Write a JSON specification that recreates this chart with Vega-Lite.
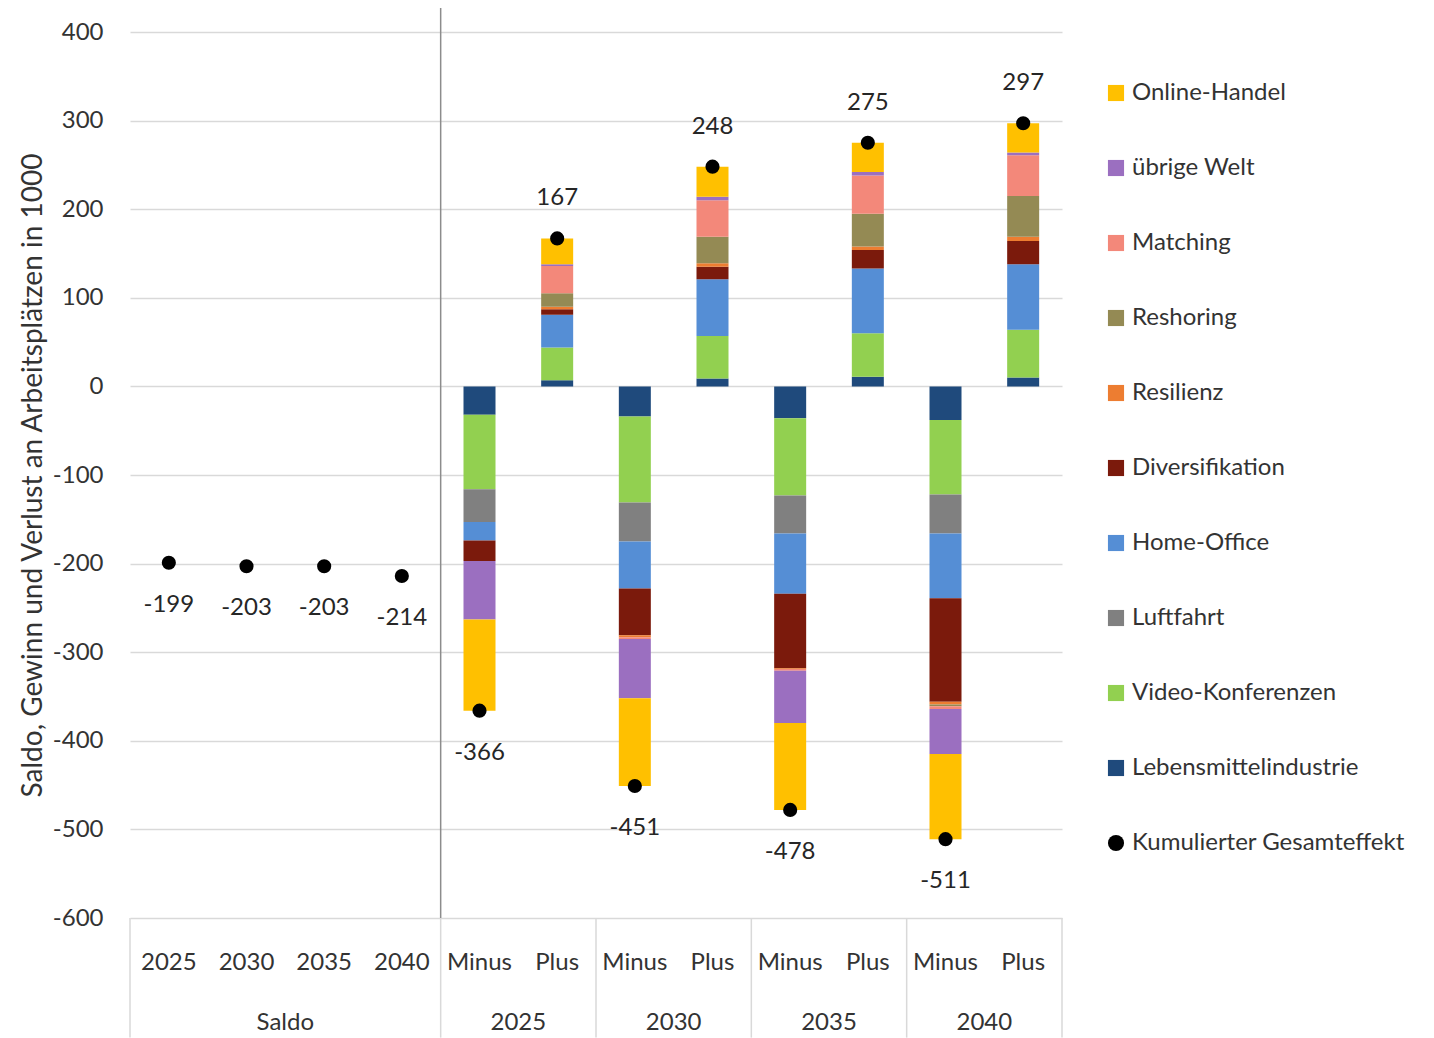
{
  "$schema": "https://vega.github.io/schema/vega-lite/v6.json",
  "width": 932,
  "height": 886,
  "autosize": {"type": "none"},
  "padding": {"left": 130, "top": 32, "right": 372, "bottom": 120},
  "background": "white",
  "datasets": {
    "segmente": [
      {"slot": "Minus 2025", "kategorie": "Lebensmittelindustrie", "wert": -32, "rang": 1},
      {"slot": "Minus 2025", "kategorie": "Video-Konferenzen", "wert": -84, "rang": 2},
      {"slot": "Minus 2025", "kategorie": "Luftfahrt", "wert": -37, "rang": 3},
      {"slot": "Minus 2025", "kategorie": "Home-Office", "wert": -21, "rang": 4},
      {"slot": "Minus 2025", "kategorie": "Diversifikation", "wert": -23, "rang": 5},
      {"slot": "Minus 2025", "kategorie": "übrige Welt", "wert": -66, "rang": 9},
      {"slot": "Minus 2025", "kategorie": "Online-Handel", "wert": -103, "rang": 10},

      {"slot": "Plus 2025", "kategorie": "Lebensmittelindustrie", "wert": 7, "rang": 1},
      {"slot": "Plus 2025", "kategorie": "Video-Konferenzen", "wert": 37, "rang": 2},
      {"slot": "Plus 2025", "kategorie": "Home-Office", "wert": 37, "rang": 4},
      {"slot": "Plus 2025", "kategorie": "Diversifikation", "wert": 6, "rang": 5},
      {"slot": "Plus 2025", "kategorie": "Resilienz", "wert": 3, "rang": 6},
      {"slot": "Plus 2025", "kategorie": "Reshoring", "wert": 15, "rang": 7},
      {"slot": "Plus 2025", "kategorie": "Matching", "wert": 31, "rang": 8},
      {"slot": "Plus 2025", "kategorie": "übrige Welt", "wert": 2, "rang": 9},
      {"slot": "Plus 2025", "kategorie": "Online-Handel", "wert": 29, "rang": 10},

      {"slot": "Minus 2030", "kategorie": "Lebensmittelindustrie", "wert": -34, "rang": 1},
      {"slot": "Minus 2030", "kategorie": "Video-Konferenzen", "wert": -97, "rang": 2},
      {"slot": "Minus 2030", "kategorie": "Luftfahrt", "wert": -44, "rang": 3},
      {"slot": "Minus 2030", "kategorie": "Home-Office", "wert": -53, "rang": 4},
      {"slot": "Minus 2030", "kategorie": "Diversifikation", "wert": -53, "rang": 5},
      {"slot": "Minus 2030", "kategorie": "Resilienz", "wert": -2, "rang": 6},
      {"slot": "Minus 2030", "kategorie": "Matching", "wert": -2, "rang": 8},
      {"slot": "Minus 2030", "kategorie": "übrige Welt", "wert": -67, "rang": 9},
      {"slot": "Minus 2030", "kategorie": "Online-Handel", "wert": -99, "rang": 10},

      {"slot": "Plus 2030", "kategorie": "Lebensmittelindustrie", "wert": 9, "rang": 1},
      {"slot": "Plus 2030", "kategorie": "Video-Konferenzen", "wert": 48, "rang": 2},
      {"slot": "Plus 2030", "kategorie": "Home-Office", "wert": 64, "rang": 4},
      {"slot": "Plus 2030", "kategorie": "Diversifikation", "wert": 14, "rang": 5},
      {"slot": "Plus 2030", "kategorie": "Resilienz", "wert": 4, "rang": 6},
      {"slot": "Plus 2030", "kategorie": "Reshoring", "wert": 30, "rang": 7},
      {"slot": "Plus 2030", "kategorie": "Matching", "wert": 41, "rang": 8},
      {"slot": "Plus 2030", "kategorie": "übrige Welt", "wert": 4, "rang": 9},
      {"slot": "Plus 2030", "kategorie": "Online-Handel", "wert": 34, "rang": 10},

      {"slot": "Minus 2035", "kategorie": "Lebensmittelindustrie", "wert": -36, "rang": 1},
      {"slot": "Minus 2035", "kategorie": "Video-Konferenzen", "wert": -87, "rang": 2},
      {"slot": "Minus 2035", "kategorie": "Luftfahrt", "wert": -43, "rang": 3},
      {"slot": "Minus 2035", "kategorie": "Home-Office", "wert": -68, "rang": 4},
      {"slot": "Minus 2035", "kategorie": "Diversifikation", "wert": -84, "rang": 5},
      {"slot": "Minus 2035", "kategorie": "Resilienz", "wert": -1, "rang": 6},
      {"slot": "Minus 2035", "kategorie": "Matching", "wert": -2, "rang": 8},
      {"slot": "Minus 2035", "kategorie": "übrige Welt", "wert": -59, "rang": 9},
      {"slot": "Minus 2035", "kategorie": "Online-Handel", "wert": -98, "rang": 10},

      {"slot": "Plus 2035", "kategorie": "Lebensmittelindustrie", "wert": 11, "rang": 1},
      {"slot": "Plus 2035", "kategorie": "Video-Konferenzen", "wert": 49, "rang": 2},
      {"slot": "Plus 2035", "kategorie": "Home-Office", "wert": 73, "rang": 4},
      {"slot": "Plus 2035", "kategorie": "Diversifikation", "wert": 21, "rang": 5},
      {"slot": "Plus 2035", "kategorie": "Resilienz", "wert": 4, "rang": 6},
      {"slot": "Plus 2035", "kategorie": "Reshoring", "wert": 37, "rang": 7},
      {"slot": "Plus 2035", "kategorie": "Matching", "wert": 43, "rang": 8},
      {"slot": "Plus 2035", "kategorie": "übrige Welt", "wert": 4, "rang": 9},
      {"slot": "Plus 2035", "kategorie": "Online-Handel", "wert": 33, "rang": 10},

      {"slot": "Minus 2040", "kategorie": "Lebensmittelindustrie", "wert": -38, "rang": 1},
      {"slot": "Minus 2040", "kategorie": "Video-Konferenzen", "wert": -84, "rang": 2},
      {"slot": "Minus 2040", "kategorie": "Luftfahrt", "wert": -44, "rang": 3},
      {"slot": "Minus 2040", "kategorie": "Home-Office", "wert": -73, "rang": 4},
      {"slot": "Minus 2040", "kategorie": "Diversifikation", "wert": -117, "rang": 5},
      {"slot": "Minus 2040", "kategorie": "Resilienz", "wert": -3, "rang": 6},
      {"slot": "Minus 2040", "kategorie": "Reshoring", "wert": -2, "rang": 7},
      {"slot": "Minus 2040", "kategorie": "Matching", "wert": -3, "rang": 8},
      {"slot": "Minus 2040", "kategorie": "übrige Welt", "wert": -51, "rang": 9},
      {"slot": "Minus 2040", "kategorie": "Online-Handel", "wert": -96, "rang": 10},

      {"slot": "Plus 2040", "kategorie": "Lebensmittelindustrie", "wert": 10, "rang": 1},
      {"slot": "Plus 2040", "kategorie": "Video-Konferenzen", "wert": 54, "rang": 2},
      {"slot": "Plus 2040", "kategorie": "Home-Office", "wert": 74, "rang": 4},
      {"slot": "Plus 2040", "kategorie": "Diversifikation", "wert": 26, "rang": 5},
      {"slot": "Plus 2040", "kategorie": "Resilienz", "wert": 5, "rang": 6},
      {"slot": "Plus 2040", "kategorie": "Reshoring", "wert": 46, "rang": 7},
      {"slot": "Plus 2040", "kategorie": "Matching", "wert": 46, "rang": 8},
      {"slot": "Plus 2040", "kategorie": "übrige Welt", "wert": 3, "rang": 9},
      {"slot": "Plus 2040", "kategorie": "Online-Handel", "wert": 33, "rang": 10}
    ],
    "summen": [
      {"slot": "2025", "wert": -199},
      {"slot": "2030", "wert": -203},
      {"slot": "2035", "wert": -203},
      {"slot": "2040", "wert": -214},
      {"slot": "Minus 2025", "wert": -366},
      {"slot": "Plus 2025", "wert": 167},
      {"slot": "Minus 2030", "wert": -451},
      {"slot": "Plus 2030", "wert": 248},
      {"slot": "Minus 2035", "wert": -478},
      {"slot": "Plus 2035", "wert": 275},
      {"slot": "Minus 2040", "wert": -511},
      {"slot": "Plus 2040", "wert": 297}
    ],
    "grenzen": [
      {"slot": "2025"},
      {"slot": "Minus 2025"},
      {"slot": "Minus 2030"},
      {"slot": "Minus 2035"},
      {"slot": "Minus 2040"}
    ]
  },
  "layer": [
    {
      "data": {"name": "segmente"},
      "mark": {"type": "bar", "width": 32},
      "encoding": {
        "x": {
          "field": "slot", "type": "nominal",
          "scale": {"type": "band", "paddingInner": 0, "paddingOuter": 0,
            "domain": ["2025", "2030", "2035", "2040", "Minus 2025", "Plus 2025", "Minus 2030", "Plus 2030", "Minus 2035", "Plus 2035", "Minus 2040", "Plus 2040"]},
          "axis": {
            "orient": "bottom",
            "title": null,
            "labelExpr": "split(datum.value, ' ')[0]",
            "labelPadding": 44,
            "labelBaseline": "middle",
            "labelAngle": 0,
            "labelFontSize": 24,
            "ticks": false,
            "domain": false,
            "grid": false
          }
        },
        "y": {
          "field": "wert", "type": "quantitative", "stack": "zero",
          "scale": {"domain": [-600, 400], "nice": false},
          "axis": {
            "orient": "left",
            "title": "Saldo, Gewinn und Verlust  an Arbeitsplätzen in 1000",
            "values": [-600, -500, -400, -300, -200, -100, 0, 100, 200, 300, 400],
            "labelExpr": "datum.value + ''",
            "labelFontSize": 24,
            "labelPadding": 27,
            "domain": false,
            "ticks": false,
            "grid": true,
            "gridColor": "#d9d9d9",
            "gridWidth": 1.5,
            "titleFontSize": 28,
            "titleFontWeight": "normal",
            "titleX": -97,
            "titleY": 443,
            "titleAngle": -90,
            "titleAlign": "center",
            "titleBaseline": "middle"
          }
        },
        "order": {"field": "rang", "type": "quantitative", "sort": "ascending"},
        "color": {
          "field": "kategorie", "type": "nominal",
          "scale": {
            "domain": ["Online-Handel", "übrige Welt", "Matching", "Reshoring", "Resilienz", "Diversifikation", "Home-Office", "Luftfahrt", "Video-Konferenzen", "Lebensmittelindustrie", "Kumulierter Gesamteffekt"],
            "range": ["#ffc000", "#9b6fc0", "#f3887a", "#948a54", "#ed7d31", "#7b1a0c", "#558ed5", "#808080", "#92d050", "#1f4a7c", "#000000"]
          },
          "legend": {
            "title": null,
            "orient": "none",
            "legendX": 974,
            "legendY": 49,
            "symbolType": "square",
            "symbolSize": 260,
            "symbolStrokeWidth": 0,
            "labelFontSize": 24,
            "labelOffset": 4,
            "labelLimit": 400,
            "rowPadding": 51,
            "encode": {
              "symbols": {
                "update": {
                  "shape": {"signal": "datum.value === 'Kumulierter Gesamteffekt' ? 'circle' : 'square'"}
                }
              }
            }
          }
        }
      }
    },
    {
      "data": {"name": "grenzen"},
      "mark": {"type": "rule", "color": "#d9d9d9", "strokeWidth": 1.5},
      "encoding": {
        "x": {
          "field": "slot", "type": "nominal", "bandPosition": 0,
          "scale": {"type": "band", "paddingInner": 0, "paddingOuter": 0,
            "domain": ["2025", "2030", "2035", "2040", "Minus 2025", "Plus 2025", "Minus 2030", "Plus 2030", "Minus 2035", "Plus 2035", "Minus 2040", "Plus 2040"]},
          "axis": {
            "orient": "bottom",
            "title": null,
            "labelExpr": "datum.value == '2030' ? 'Saldo' : (indexof(datum.value, 'Minus') == 0 ? split(datum.value, ' ')[1] : '')",
            "labelOffset": 38.83,
            "labelPadding": 104,
            "labelBaseline": "middle",
            "labelAngle": 0,
            "labelFontSize": 24,
            "ticks": false,
            "domain": false,
            "grid": false
          }
        },
        "y": {"datum": -600, "type": "quantitative"},
        "y2": {"datum": -735}
      }
    },
    {
      "data": {"values": [{"slot": "Plus 2040"}]},
      "mark": {"type": "rule", "color": "#d9d9d9", "strokeWidth": 1.5},
      "encoding": {
        "x": {
          "field": "slot", "type": "nominal", "bandPosition": 1,
          "scale": {"type": "band", "paddingInner": 0, "paddingOuter": 0,
            "domain": ["2025", "2030", "2035", "2040", "Minus 2025", "Plus 2025", "Minus 2030", "Plus 2030", "Minus 2035", "Plus 2035", "Minus 2040", "Plus 2040"]},
          "axis": null
        },
        "y": {"datum": -600, "type": "quantitative"},
        "y2": {"datum": -735}
      }
    },
    {
      "data": {"values": [{"slot": "Minus 2025"}]},
      "mark": {"type": "rule", "color": "#8c8c8c", "strokeWidth": 1.5},
      "encoding": {
        "x": {
          "field": "slot", "type": "nominal", "bandPosition": 0,
          "scale": {"type": "band", "paddingInner": 0, "paddingOuter": 0,
            "domain": ["2025", "2030", "2035", "2040", "Minus 2025", "Plus 2025", "Minus 2030", "Plus 2030", "Minus 2035", "Plus 2035", "Minus 2040", "Plus 2040"]},
          "axis": null
        },
        "y": {"datum": 427, "type": "quantitative"},
        "y2": {"datum": -600}
      }
    },
    {
      "data": {"name": "summen"},
      "mark": {"type": "point", "filled": true, "size": 200, "opacity": 1},
      "encoding": {
        "x": {
          "field": "slot", "type": "nominal",
          "scale": {"type": "band", "paddingInner": 0, "paddingOuter": 0,
            "domain": ["2025", "2030", "2035", "2040", "Minus 2025", "Plus 2025", "Minus 2030", "Plus 2030", "Minus 2035", "Plus 2035", "Minus 2040", "Plus 2040"]},
          "axis": null
        },
        "y": {"field": "wert", "type": "quantitative"},
        "color": {"datum": "Kumulierter Gesamteffekt"}
      }
    },
    {
      "data": {"name": "summen"},
      "transform": [{"filter": "datum.wert > 0"}],
      "mark": {"type": "text", "fontSize": 24, "dy": -40, "baseline": "middle", "color": "#262626"},
      "encoding": {
        "x": {
          "field": "slot", "type": "nominal",
          "scale": {"type": "band", "paddingInner": 0, "paddingOuter": 0,
            "domain": ["2025", "2030", "2035", "2040", "Minus 2025", "Plus 2025", "Minus 2030", "Plus 2030", "Minus 2035", "Plus 2035", "Minus 2040", "Plus 2040"]},
          "axis": null
        },
        "y": {"field": "wert", "type": "quantitative"},
        "text": {"field": "wert", "type": "nominal"}
      }
    },
    {
      "data": {"name": "summen"},
      "transform": [{"filter": "datum.wert < 0"}],
      "mark": {"type": "text", "fontSize": 24, "dy": 42, "baseline": "middle", "color": "#262626"},
      "encoding": {
        "x": {
          "field": "slot", "type": "nominal",
          "scale": {"type": "band", "paddingInner": 0, "paddingOuter": 0,
            "domain": ["2025", "2030", "2035", "2040", "Minus 2025", "Plus 2025", "Minus 2030", "Plus 2030", "Minus 2035", "Plus 2035", "Minus 2040", "Plus 2040"]},
          "axis": null
        },
        "y": {"field": "wert", "type": "quantitative"},
        "text": {"field": "wert", "type": "nominal"}
      }
    }
  ],
  "resolve": {"axis": {"x": "independent"}},
  "config": {
    "font": "Lato",
    "view": {"stroke": null},
    "axis": {"labelColor": "#333333", "titleColor": "#333333"},
    "legend": {"labelColor": "#333333"}
  }
}
